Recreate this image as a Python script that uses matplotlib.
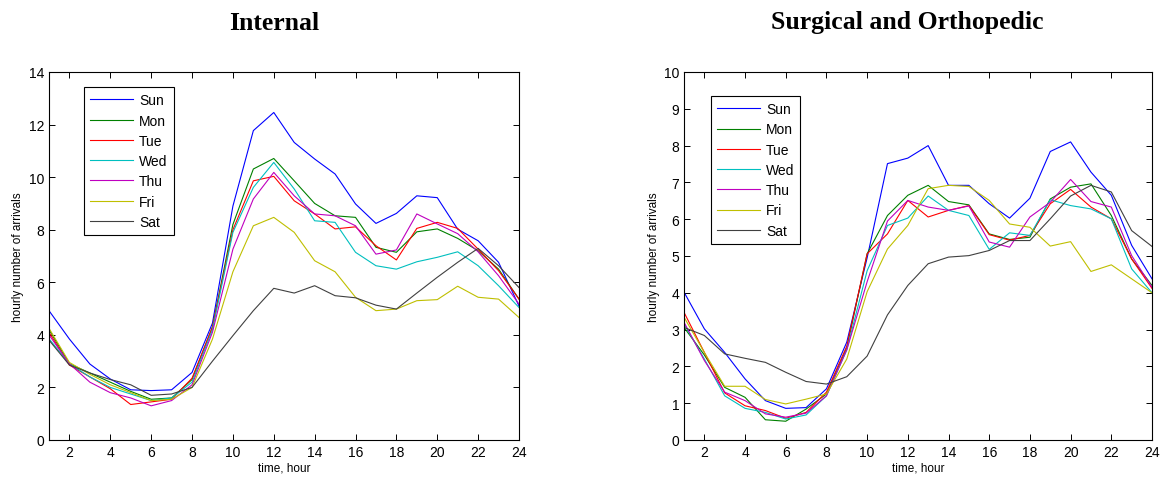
import matplotlib
matplotlib.use("Agg")
import matplotlib.pyplot as plt
import numpy as np

hours = np.arange(1, 25)
days = ["Sun", "Mon", "Tue", "Wed", "Thu", "Fri", "Sat"]
colors = ["#0000ff", "#008000", "#ff0000", "#00bfbf", "#bf00bf", "#bfbf00", "#404040"]

# Internal
int_sun = [4.92, 3.84, 2.89, 2.32, 1.91, 1.88, 1.91, 2.57, 4.45, 8.9, 11.77, 12.46, 11.32, 10.69, 10.12, 8.98, 8.24, 8.62, 9.29, 9.22, 8.02, 7.58, 6.76, 5.1]
int_mon = [4.2, 2.9, 2.55, 2.2, 1.85, 1.55, 1.6, 2.3, 4.3, 8.2, 10.31, 10.71, 9.86, 9.0, 8.53, 8.47, 7.33, 7.14, 7.92, 8.03, 7.67, 7.2, 6.5, 5.36]
int_tue = [4.1, 2.85, 2.4, 1.95, 1.35, 1.45, 1.55, 2.35, 4.3, 8.0, 9.86, 10.03, 9.1, 8.6, 8.03, 8.11, 7.39, 6.85, 8.05, 8.28, 8.05, 7.26, 6.44, 5.36]
int_wed = [3.85, 2.9, 2.4, 2.0, 1.75, 1.5, 1.6, 2.2, 4.2, 7.9, 9.61, 10.56, 9.55, 8.34, 8.28, 7.14, 6.63, 6.5, 6.78, 6.95, 7.16, 6.63, 5.87, 5.04]
int_thu = [4.0, 2.9, 2.2, 1.8, 1.6, 1.3, 1.5, 2.1, 4.1, 7.26, 9.17, 10.18, 9.29, 8.6, 8.53, 8.15, 7.07, 7.23, 8.6, 8.22, 7.85, 7.16, 6.25, 5.17]
int_fri = [4.25, 2.95, 2.5, 2.1, 1.8, 1.5, 1.55, 2.0, 3.84, 6.4, 8.15, 8.47, 7.9, 6.82, 6.4, 5.43, 4.92, 4.98, 5.3, 5.34, 5.85, 5.43, 5.36, 4.66]
int_sat = [3.8, 2.85, 2.55, 2.3, 2.1, 1.7, 1.75, 2.0, 3.0, 3.97, 4.92, 5.77, 5.59, 5.87, 5.49, 5.41, 5.13, 4.98, 5.59, 6.19, 6.76, 7.29, 6.63, 5.8]

# Surgical and Orthopedic
sur_sun = [4.02, 3.02, 2.38, 1.66, 1.07, 0.86, 0.88, 1.39, 2.66, 4.95, 7.51, 7.66, 8.0, 6.92, 6.92, 6.42, 6.03, 6.57, 7.84, 8.1, 7.28, 6.65, 5.29, 4.38]
sur_mon = [3.06, 2.31, 1.43, 1.16, 0.55, 0.51, 0.84, 1.25, 2.5, 5.06, 6.1, 6.65, 6.92, 6.48, 6.39, 5.6, 5.45, 5.51, 6.55, 6.87, 6.96, 6.1, 4.92, 4.2]
sur_tue = [3.47, 2.38, 1.28, 0.93, 0.8, 0.59, 0.75, 1.3, 2.55, 5.06, 5.6, 6.51, 6.06, 6.24, 6.37, 5.58, 5.43, 5.56, 6.42, 6.81, 6.33, 6.01, 4.92, 4.12]
sur_wed = [3.16, 2.2, 1.2, 0.86, 0.75, 0.57, 0.68, 1.2, 2.45, 4.6, 5.83, 6.03, 6.63, 6.24, 6.1, 5.18, 5.63, 5.56, 6.53, 6.37, 6.28, 6.01, 4.65, 4.0]
sur_thu = [3.2, 2.16, 1.3, 1.07, 0.71, 0.62, 0.73, 1.2, 2.45, 4.3, 5.95, 6.51, 6.33, 6.24, 6.36, 5.38, 5.24, 6.06, 6.46, 7.08, 6.48, 6.33, 5.01, 4.15]
sur_fri = [3.34, 2.38, 1.46, 1.46, 1.1, 0.98, 1.11, 1.25, 2.2, 4.03, 5.19, 5.83, 6.83, 6.92, 6.89, 6.51, 5.87, 5.78, 5.27, 5.39, 4.58, 4.76, 4.38, 4.0]
sur_sat = [3.06, 2.84, 2.34, 2.22, 2.11, 1.84, 1.59, 1.52, 1.72, 2.28, 3.4, 4.2, 4.79, 4.97, 5.01, 5.15, 5.42, 5.42, 6.01, 6.63, 6.92, 6.74, 5.69, 5.26]

internal = [int_sun, int_mon, int_tue, int_wed, int_thu, int_fri, int_sat]
surgical = [sur_sun, sur_mon, sur_tue, sur_wed, sur_thu, sur_fri, sur_sat]

plt.rcParams['font.family'] = ['Liberation Sans', 'DejaVu Sans']

fig = plt.figure(figsize=(11.6, 4.81), dpi=100)
ax1 = fig.add_axes([49/1160, 40/481, 470/1160, 368/481])
ax2 = fig.add_axes([684/1160, 40/481, 468/1160, 368/481])


def draw(ax, series, title, title_x, ymax, ystep, leg_xy):
    for vals, name, c in zip(series, days, colors):
        ax.plot(hours, vals, color=c, lw=0.8, label=name)
    ax.set_xlim(1, 24)
    ax.set_ylim(0, ymax)
    ax.set_xticks(np.arange(2, 25, 2))
    ax.set_yticks(np.arange(0, ymax + 0.1, ystep))
    ax.tick_params(direction='in', top=True, right=True, length=4, width=0.7, labelsize=10)
    for s in ax.spines.values():
        s.set_linewidth(0.8)
    ax.set_xlabel('time, hour', fontsize=8.5, labelpad=2)
    ax.set_ylabel('hourly number of arrivals', fontsize=8.5, labelpad=3)
    fig.text(title_x / 1160, 1 - 23 / 481, title, fontsize=18.5, fontweight='bold',
             family='Liberation Serif', ha='center', va='center')
    leg = ax.legend(loc='upper left', bbox_to_anchor=leg_xy, borderaxespad=0, fontsize=10,
                    fancybox=False, edgecolor='black', framealpha=1, handlelength=3.1,
                    handletextpad=0.4, labelspacing=0.45, borderpad=0.45)
    leg.get_frame().set_linewidth(0.8)


draw(ax1, internal, 'Internal', 274, 14, 2, (0.0745, 0.959))
draw(ax2, surgical, 'Surgical and Orthopedic', 907, 10, 1, (0.0577, 0.935))

fig.savefig('out.png', dpi=100)
